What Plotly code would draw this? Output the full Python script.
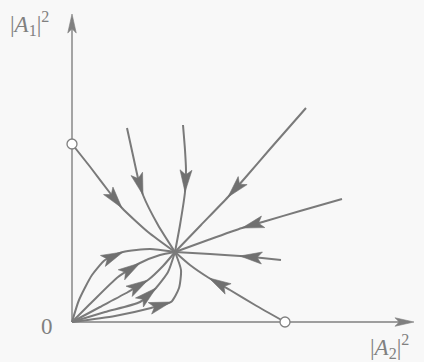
import math
import plotly.graph_objects as go

# Phase plane of |A2|^2 (horizontal) vs |A1|^2 (vertical).
# Fixed points
node = (1.03, 0.70)        # stable node
fp_a1 = (0.0, 1.78)        # fixed point on the |A1|^2 axis
fp_a2 = (2.13, 0.0)        # fixed point on the |A2|^2 axis

# Trajectories running into the node from outside
traj_1 = [(0.0, 1.78), (0.19, 1.54), (0.38, 1.29), (0.50, 1.14), (0.76, 0.90), (1.03, 0.70)]
traj_2 = [(0.55, 1.94), (0.62, 1.62), (0.66, 1.44), (0.71, 1.27), (0.86, 0.97), (1.03, 0.70)]
traj_3 = [(1.11, 1.97), (1.13, 1.72), (1.14, 1.52), (1.13, 1.30), (1.08, 0.97), (1.03, 0.70)]
traj_4 = [(2.34, 2.14), (1.98, 1.73), (1.73, 1.44), (1.56, 1.25), (1.29, 0.97), (1.03, 0.70)]
traj_5 = [(2.70, 1.23), (2.28, 1.11), (1.94, 1.01), (1.70, 0.94), (1.36, 0.82), (1.03, 0.70)]
traj_6 = [(2.09, 0.62), (1.90, 0.64), (1.68, 0.66), (1.38, 0.68), (1.03, 0.70)]
traj_7 = [(2.13, 0.0), (1.83, 0.17), (1.58, 0.32), (1.37, 0.44), (1.18, 0.57), (1.03, 0.70)]

# Trajectories leaving the origin towards the node
orig_1 = [(0.0, 0.0), (0.07, 0.22), (0.20, 0.47), (0.33, 0.62), (0.51, 0.70), (0.78, 0.73), (1.03, 0.70)]
orig_2 = [(0.0, 0.0), (0.20, 0.20), (0.46, 0.45), (0.68, 0.59), (0.88, 0.67), (1.03, 0.70)]
orig_3 = [(0.0, 0.0), (0.28, 0.15), (0.56, 0.30), (0.76, 0.42), (0.91, 0.56), (1.03, 0.70)]
orig_4 = [(0.0, 0.0), (0.33, 0.10), (0.68, 0.20), (0.84, 0.34), (0.96, 0.50), (1.03, 0.70)]
orig_5 = [(0.0, 0.0), (0.43, 0.06), (0.79, 0.14), (0.99, 0.20), (1.07, 0.34), (1.09, 0.52), (1.03, 0.70)]

trajectories = [traj_1, traj_2, traj_3, traj_4, traj_5, traj_6, traj_7,
                orig_1, orig_2, orig_3, orig_4, orig_5]
# index of the point where each arrowhead tip sits (direction from the point before)
arrow_tip_index = [3, 3, 3, 3, 3, 2, 3, 4, 3, 3, 3, 3]

# Axis extents
x_axis_end = 3.42
y_axis_end = 3.08

LINE = "#7a7a7a"
HEAD = "#707070"
AXIS = "#808080"
TEXT = "#808080"
BG = "#f8f8f8"


def arrowhead(tip, back, length, width, notch=0.78):
    dx, dy = tip[0] - back[0], tip[1] - back[1]
    n = math.hypot(dx, dy)
    ux, uy = dx / n, dy / n
    px, py = -uy, ux
    bx, by = tip[0] - length * ux, tip[1] - length * uy
    nx, ny = tip[0] - notch * length * ux, tip[1] - notch * length * uy
    xs = [tip[0], bx + px * width / 2, nx, bx - px * width / 2, tip[0]]
    ys = [tip[1], by + py * width / 2, ny, by - py * width / 2, tip[1]]
    return xs, ys


fig = go.Figure()

# axes
fig.add_trace(go.Scatter(x=[0, x_axis_end - 0.05], y=[0, 0], mode="lines",
                         line=dict(color=AXIS, width=1.4), hoverinfo="skip"))
fig.add_trace(go.Scatter(x=[0, 0], y=[0, y_axis_end - 0.05], mode="lines",
                         line=dict(color=AXIS, width=1.4), hoverinfo="skip"))
for tip, back in [((x_axis_end, 0), (x_axis_end - 1, 0)), ((0, y_axis_end), (0, y_axis_end - 1))]:
    hx, hy = arrowhead(tip, back, 0.19, 0.085)
    fig.add_trace(go.Scatter(x=hx, y=hy, mode="lines", fill="toself",
                             fillcolor=AXIS, line=dict(color=AXIS, width=0.6), hoverinfo="skip"))

# trajectories
for pts in trajectories:
    fig.add_trace(go.Scatter(x=[p[0] for p in pts], y=[p[1] for p in pts], mode="lines",
                             line=dict(color=LINE, width=2, shape="spline", smoothing=0.6),
                             hoverinfo="skip"))

# flow direction arrowheads
for pts, k in zip(trajectories, arrow_tip_index):
    hx, hy = arrowhead(pts[k], pts[k - 1], 0.22, 0.12)
    fig.add_trace(go.Scatter(x=hx, y=hy, mode="lines", fill="toself",
                             fillcolor=HEAD, line=dict(color=HEAD, width=0.6), hoverinfo="skip"))

# fixed points on the axes
fig.add_trace(go.Scatter(x=[fp_a1[0], fp_a2[0]], y=[fp_a1[1], fp_a2[1]], mode="markers",
                         marker=dict(size=10, color="white", line=dict(color=AXIS, width=1.3)),
                         hoverinfo="skip"))

font = dict(family="Liberation Serif", size=23, color=TEXT)
fig.add_annotation(x=-0.64, y=2.99, text="|<i>A</i><sub>1</sub>|<sup>2</sup>", showarrow=False,
                   xanchor="left", yanchor="middle", font=font)
fig.add_annotation(x=2.96, y=-0.24, text="|<i>A</i><sub>2</sub>|<sup>2</sup>", showarrow=False,
                   xanchor="left", yanchor="middle", font=font)
fig.add_annotation(x=-0.25, y=-0.045, text="0", showarrow=False,
                   xanchor="center", yanchor="middle", font=font)

fig.update_layout(
    width=424, height=362, margin=dict(l=0, r=0, t=0, b=0),
    showlegend=False, plot_bgcolor=BG, paper_bgcolor=BG,
    xaxis=dict(range=[-0.72, 3.52], visible=False, fixedrange=True),
    yaxis=dict(range=[-0.40, 3.22], visible=False, fixedrange=True),
)

fig.write_html("out.html")
